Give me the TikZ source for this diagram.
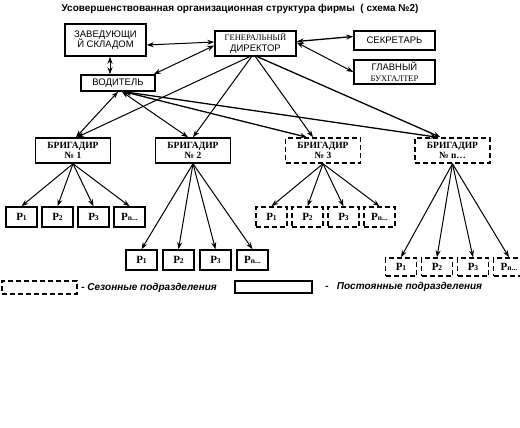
\documentclass[tikz,border=0pt]{standalone}
\usepackage{fontspec}
\setmainfont{Liberation Sans}
\newfontfamily\serifru{Liberation Serif}
\usetikzlibrary{positioning,arrows.meta}
\tikzset{
	unit/.style={draw, line width=1.5pt, rectangle, align=center, inner sep=1pt, font=\fontsize{9.5}{10.5}\selectfont},
	brig/.style={unit, minimum width=75pt, minimum height=25pt, font=\serifru\bfseries\fontsize{9.5}{10}\selectfont},
	seasonal/.style={dash pattern=on 5pt off 3pt},
	rbox/.style={draw, line width=1.5pt, minimum width=31pt, minimum height=20pt, inner sep=0pt, font=\serifru\bfseries\fontsize{11}{12}\selectfont},
	link/.style={<->, line width=1pt},
	order/.style={->, line width=1pt}
}
\newcommand{\rsub}[1]{P{\fontsize{7.5}{8}\selectfont #1}}
\begin{document}
\begin{tikzpicture}[x=1pt,y=-1pt,>={Stealth[length=7pt,width=5pt]}]
			\useasboundingbox (0,0) rectangle (520,428);
			\node (title) at (240,9) [font=\bfseries\fontsize{10}{12}\selectfont] {Усовершенствованная организационная структура фирмы~~( схема №2)};
			\node (zav) at (105.5,40) [unit, minimum width=81pt, minimum height=32pt] {ЗАВЕДУЮЩИ\\Й СКЛАДОМ};
			\node (gen) at (255.5,43.5) [unit, minimum width=81pt, minimum height=25pt] {{\serifru\fontsize{8.5}{9}\selectfont ГЕНЕРАЛЬНЫЙ}\\ДИРЕКТОР};
			\node (sek) at (394.5,40.5) [unit, minimum width=81pt, minimum height=19pt] {СЕКРЕТАРЬ};
			\node (glav) at (394.5,72) [unit, minimum width=81pt, minimum height=24pt] {ГЛАВНЫЙ\\{\serifru\fontsize{8.5}{9}\selectfont БУХГАЛТЕР}};
			\node (vod) at (118,83) [unit, minimum width=74pt, minimum height=16pt] {ВОДИТЕЛЬ};
			\node (b1) at (73,150.5) [brig] {БРИГАДИР\\№ 1};
			\node (b2) at (193,150.5) [brig] {БРИГАДИР\\№ 2};
			\node (b3) at (323,150.5) [brig, seasonal] {БРИГАДИР\\№ 3};
			\node (bn) at (452.5,150.5) [brig, seasonal] {БРИГАДИР\\№ n…};
			\node (r11) at (21.5,217) [rbox] {\rsub{1}};
			\node (r12) [rbox, right=3.5pt of r11] {\rsub{2}};
			\node (r13) [rbox, right=3.5pt of r12] {\rsub{3}};
			\node (r14) [rbox, right=3.5pt of r13] {\rsub{n...}};
			\node (r21) at (141.5,260) [rbox] {\rsub{1}};
			\node (r22) [rbox, right=4.5pt of r21] {\rsub{2}};
			\node (r23) [rbox, right=4.5pt of r22] {\rsub{3}};
			\node (r24) [rbox, right=4.5pt of r23] {\rsub{n...}};
			\node (r31) at (271.5,217) [rbox, seasonal] {\rsub{1}};
			\node (r32) [rbox, seasonal, right=3.5pt of r31] {\rsub{2}};
			\node (r33) [rbox, seasonal, right=3.5pt of r32] {\rsub{3}};
			\node (r34) [rbox, seasonal, right=3.5pt of r33] {\rsub{n...}};
			\node (rn1) at (401,267) [rbox, seasonal, minimum height=18pt] {\rsub{1}};
			\node (rn2) [rbox, seasonal, minimum height=18pt, right=3.5pt of rn1] {\rsub{2}};
			\node (rn3) [rbox, seasonal, minimum height=18pt, right=3.5pt of rn2] {\rsub{3}};
			\node (rn4) [rbox, seasonal, minimum height=18pt, right=3.5pt of rn3] {\rsub{n...}};
			\node (leg1) at (39.5,287.5) [draw, line width=1.5pt, seasonal, minimum width=75pt, minimum height=13pt] {};
			\node (leg1t) [right=0pt of leg1, font=\bfseries\itshape\fontsize{10}{11}\selectfont] {- Сезонные подразделения};
			\node (leg2) at (273.5,287) [draw, line width=1.5pt, minimum width=77pt, minimum height=12pt] {};
			\node (leg2t) [right=9pt of leg2, font=\bfseries\itshape\fontsize{10}{11}\selectfont] {-~~~Постоянные подразделения};
			\draw [link] ([yshift=-5pt]zav.east) -- ([yshift=1.5pt]gen.west);
			\draw [link] ([xshift=4.5pt]zav.south) -- ([xshift=4.5pt]zav.south |- vod.north);
			\draw [link] ([yshift=-2pt]gen.west) -- ([xshift=-2pt]vod.north east);
			\draw [link, line width=1.3pt] ([yshift=2pt]gen.east) -- ([yshift=4pt]sek.west);
			\draw [link] ([yshift=1pt]gen.east) -- (glav.west);
			\draw [order] ([xshift=-6pt]gen.south) -- ([xshift=4pt]b1.north);
			\draw [order] ([xshift=-4pt]gen.south) -- (b2.north);
			\draw [order] (gen.south) -- ([xshift=-10pt]b3.north);
			\draw [order, line width=1.3pt] ([xshift=2pt]gen.south) -- ([xshift=-12pt]bn.north);
			\draw [link] (vod.south) -- ([xshift=3pt]b1.north);
			\draw [link] ([xshift=4pt]vod.south) -- ([xshift=-5pt]b2.north);
			\draw [link, line width=1.3pt] ([xshift=6pt]vod.south) -- ([xshift=-16pt]b3.north);
			\draw [link, line width=1.3pt] ([xshift=6pt]vod.south) -- ([xshift=-15pt]bn.north);
			\draw [order] (b1.south) -- (r11.north);
			\draw [order] (b1.south) -- (r12.north);
			\draw [order] (b1.south) -- (r13.north);
			\draw [order] (b1.south) -- (r14.north);
			\draw [order] (b2.south) -- (r21.north);
			\draw [order] (b2.south) -- (r22.north);
			\draw [order] (b2.south) -- (r23.north);
			\draw [order] (b2.south) -- (r24.north);
			\draw [order] (b3.south) -- (r31.north);
			\draw [order] (b3.south) -- (r32.north);
			\draw [order] (b3.south) -- (r33.north);
			\draw [order] (b3.south) -- (r34.north);
			\draw [order] (bn.south) -- (rn1.north);
			\draw [order] (bn.south) -- (rn2.north);
			\draw [order] (bn.south) -- (rn3.north);
			\draw [order] (bn.south) -- (rn4.north);
\end{tikzpicture}
\end{document}
